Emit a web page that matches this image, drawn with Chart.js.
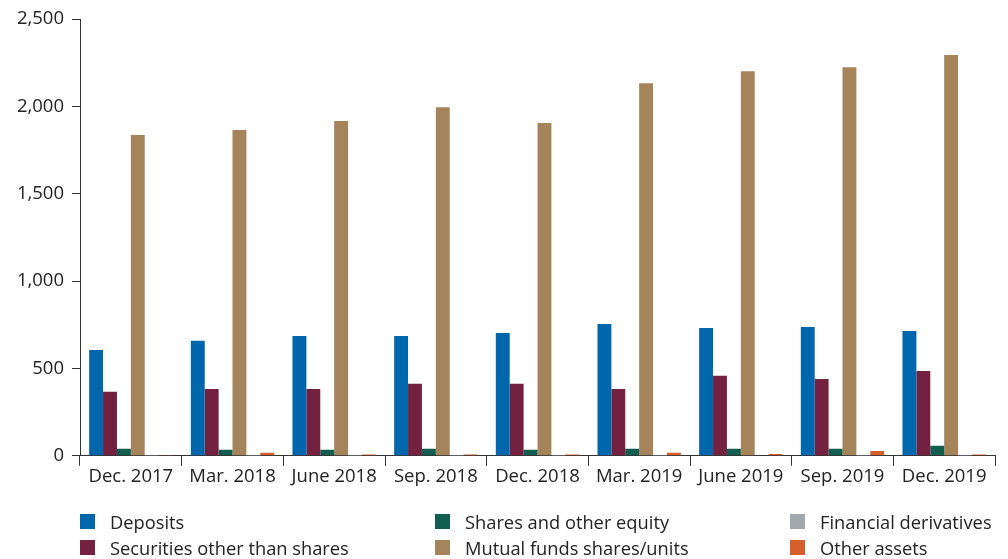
<!DOCTYPE html>
<html>
<head>
<meta charset="utf-8">
<script src="https://cdn.jsdelivr.net/npm/chart.js@4.4.0/dist/chart.umd.min.js"></script>
<style>
  body { margin: 0; background: #fff; font-family: "Open Sans", Lato, sans-serif; }
  #wrap { position: relative; width: 1008px; height: 559px; }
  #legend { position: absolute; left: 0; top: 0; width: 1008px; height: 559px; pointer-events: none; }
  .item { position: absolute; display: flex; align-items: center; font-size: 18.3px; color: #222; white-space: nowrap; }
  .box { width: 15px; height: 15px; margin-right: 15px; }
</style>
</head>
<body>
<div id="wrap">
  <canvas id="myChart" width="1008" height="559"></canvas>
  <div id="legend"></div>
</div>
<script>
let quarters = ['Dec. 2017', 'Mar. 2018', 'June 2018', 'Sep. 2018', 'Dec. 2018', 'Mar. 2019', 'June 2019', 'Sep. 2019', 'Dec. 2019'];

let deposits = [606, 658, 686, 686, 703, 755, 732, 738, 715];
let securities = [366, 383, 383, 412, 412, 383, 458, 440, 486];
let sharesEquity = [40, 34, 34, 40, 34, 40, 40, 40, 57];
let mutualFunds = [1836, 1865, 1916, 1996, 1905, 2133, 2202, 2225, 2294];
let derivatives = [1, 1, 1, 1, 1, 1, 3, 1, 1];
let otherAssets = [2, 17, 7, 7, 7, 17, 11, 28, 7];

let seriesNames = ['Deposits', 'Securities other than shares', 'Shares and other equity', 'Mutual funds shares/units', 'Financial derivatives', 'Other assets'];
let seriesColors = ['#0067ac', '#73213f', '#115e4e', '#a5845b', '#a2a7ab', '#d55e2a'];
let seriesData = [deposits, securities, sharesEquity, mutualFunds, derivatives, otherAssets];

let datasets = seriesNames.map(function(name, i) {
    return {
        label: name,
        data: seriesData[i],
        backgroundColor: seriesColors[i],
        borderWidth: 0,
        categoryPercentage: 0.82,
        barPercentage: 1.0
    };
});

let ctx = document.getElementById('myChart').getContext('2d');
let chart = new Chart(ctx, {
    type: 'bar',
    data: { labels: quarters, datasets: datasets },
    options: {
        responsive: false,
        animation: false,
        layout: { padding: { top: 12, right: 13, bottom: 71, left: 0 } },
        plugins: { legend: { display: false }, tooltip: { enabled: false } },
        scales: {
            x: {
                grid: { offset: true, drawOnChartArea: false, tickLength: 10, color: '#333', lineWidth: 1 },
                border: { display: true, color: '#333', width: 1 },
                ticks: { color: '#222', font: { family: 'Open Sans', size: 18.5 }, padding: 0 }
            },
            y: {
                min: 0,
                max: 2500,
                ticks: { stepSize: 500, color: '#222', font: { family: 'Open Sans', size: 18.5 }, padding: 8 },
                grid: { drawOnChartArea: false, tickLength: 8, color: '#333' },
                border: { display: true, color: '#333', width: 1 },
                afterFit: function(scale) { scale.width = 80; }
            }
        }
    }
});

// legend in three columns
let legendPos = [[80, 522], [80, 548], [435, 522], [435, 548], [790, 522], [790, 548]];
let legendDiv = document.getElementById('legend');
seriesNames.forEach(function(name, i) {
    let item = document.createElement('div');
    item.className = 'item';
    item.style.left = legendPos[i][0] + 'px';
    item.style.top = (legendPos[i][1] - 13) + 'px';
    item.innerHTML = '<span class="box" style="background:' + seriesColors[i] + '"></span>' + name;
    legendDiv.appendChild(item);
});
</script>
</body>
</html>
